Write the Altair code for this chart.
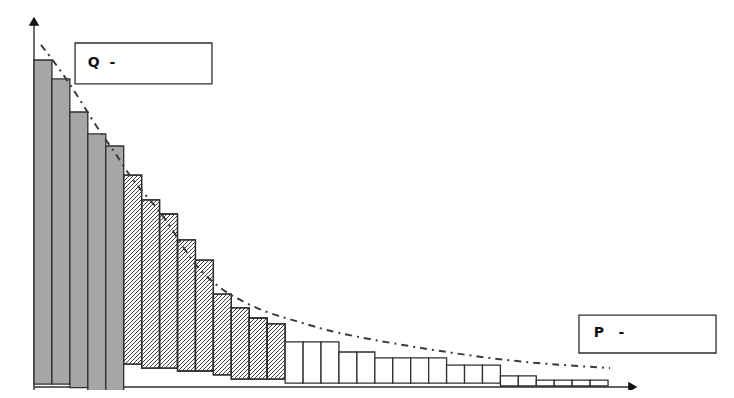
import math
import altair as alt
import pandas as pd

# ---- data (value units, x in bar index units) ----
gray_top = [100, 94.2, 84.1, 77.4, 73.7]
gray_base = [0.9, 0.9, -0.2, -1.4, -1.4]

hatch_top = [64.8, 57.2, 52.9, 45.0, 38.8, 28.4, 24.2, 21.1, 19.3]
hatch_base = [7.0, 5.8, 5.8, 4.9, 4.9, 3.7, 2.4, 2.4, 2.4]

white_top = [13.8, 13.8, 13.8, 10.7, 10.7, 8.9, 8.9, 8.9, 8.9,
             6.7, 6.7, 6.7, 3.4, 3.4, 2.1, 2.1, 2.1, 2.1]
white_base = [1.2, 1.2, 1.2, 1.2, 1.2, 1.2, 1.2, 1.2, 1.2,
              1.2, 1.2, 1.2, 0.3, 0.3, 0.3, 0.3, 0.3, 0.3]

curve_x = [0.39, 1.90, 3.68, 4.52, 5.52, 6.86, 7.75, 8.86, 9.98, 11.09,
           12.99, 14.66, 16.50, 21.13, 26.70, 32.11]
curve_y = [104.6, 93.9, 77.7, 71.9, 62.7, 55.0, 47.9, 37.9, 31.8, 27.5,
           22.6, 20.2, 16.8, 12.2, 7.6, 5.8]

box_text = ["Q\u00a0\u00a0-", "P\u00a0\u00a0\u00a0-"]
box_x = [2.29, 30.38]
box_x2 = [9.92, 38.02]
box_y = [105.2, 22.0]
box_y2 = [92.7, 10.4]
label_x = [3.0, 31.2]
label_y = [99.0, 16.5]

# ---- layout ----
W, H = 604, 370
XMAX = 33.67
YMAX = 113.15
XPX = W / XMAX
YPX = H / YMAX

xs = alt.Scale(domain=[0, XMAX], nice=False, zero=False)
ys = alt.Scale(domain=[0, YMAX], nice=False, zero=False)

INK = "#2e2e2e"


def bars_frame(tops, bases, start):
    return pd.DataFrame({
        "x0": [start + i for i in range(len(tops))],
        "x1": [start + i + 1 for i in range(len(tops))],
        "top": tops,
        "base": bases,
    })


gray_df = bars_frame(gray_top, gray_base, 0)
hatch_df = bars_frame(hatch_top, hatch_base, len(gray_top))
white_df = bars_frame(white_top, white_base, len(gray_top) + len(hatch_top))

# hatch pattern lines ("/" direction) inside the hatched bars
step = 4.0
segs = []
for r in hatch_df.itertuples():
    u0, u1 = r.x0 * XPX, r.x1 * XPX
    wb, wt = r.base * YPX, r.top * YPX
    k = math.ceil((wb - u1) / step)
    while k * step <= wt - u0:
        c = k * step
        ua = max(u0, wb - c)
        ub = min(u1, wt - c)
        if ub > ua:
            segs.append({"xa": ua / XPX, "ya": (ua + c) / YPX,
                         "xb": ub / XPX, "yb": (ub + c) / YPX})
        k += 1
hatch_lines = pd.DataFrame(segs)


def rects(df, fill, opacity=1.0):
    return alt.Chart(df).mark_rect(
        fill=fill, fillOpacity=opacity, stroke=INK, strokeWidth=1.3, clip=False
    ).encode(
        x=alt.X("x0:Q", scale=xs, axis=None),
        x2="x1:Q",
        y=alt.Y("top:Q", scale=ys, axis=None),
        y2="base:Q",
    )


gray = rects(gray_df, "#a6a6a6")
hatch_bg = rects(hatch_df, "white")
hatch = alt.Chart(hatch_lines).mark_rule(color="#333333", strokeWidth=0.95).encode(
    x=alt.X("xa:Q", scale=xs, axis=None),
    y=alt.Y("ya:Q", scale=ys, axis=None),
    x2="xb:Q",
    y2="yb:Q",
)
hatch_edge = rects(hatch_df, "white", 0.0)
white = rects(white_df, "white")

axes_df = pd.DataFrame({
    "xa": [0, 0], "ya": [-1.0, 0], "xb": [0, XMAX - 0.3], "yb": [YMAX - 1.5, 0]
})
axes = alt.Chart(axes_df).mark_rule(color=INK, strokeWidth=1.4).encode(
    x=alt.X("xa:Q", scale=xs, axis=None),
    y=alt.Y("ya:Q", scale=ys, axis=None),
    x2="xb:Q",
    y2="yb:Q",
)
HEAD = 110
r_head = math.sqrt(HEAD) / 2
arrow_up = alt.Chart(pd.DataFrame({"x": [0], "y": [YMAX + 0.3 - r_head / YPX]})).mark_point(
    shape="triangle-up", filled=True, size=HEAD, color="#111", opacity=1
).encode(x=alt.X("x:Q", scale=xs, axis=None), y=alt.Y("y:Q", scale=ys, axis=None))
arrow_right = alt.Chart(pd.DataFrame({"x": [XMAX - r_head / XPX], "y": [0]})).mark_point(
    shape="triangle-right", filled=True, size=HEAD, color="#111", opacity=1
).encode(x=alt.X("x:Q", scale=xs, axis=None), y=alt.Y("y:Q", scale=ys, axis=None))

curve = alt.Chart(pd.DataFrame({"x": curve_x, "y": curve_y})).mark_line(
    color="#3a3a3a", strokeWidth=2.0, strokeDash=[7, 5, 2, 5], interpolate="basis"
).encode(x=alt.X("x:Q", scale=xs, axis=None), y=alt.Y("y:Q", scale=ys, axis=None))

boxes_df = pd.DataFrame({"x0": box_x, "x1": box_x2, "top": box_y, "base": box_y2,
                         "lx": label_x, "ly": label_y, "t": box_text})
boxes = alt.Chart(boxes_df).mark_rect(
    fill="white", stroke=INK, strokeWidth=1.3, clip=False
).encode(
    x=alt.X("x0:Q", scale=xs, axis=None), x2="x1:Q",
    y=alt.Y("top:Q", scale=ys, axis=None), y2="base:Q",
)
labels = alt.Chart(boxes_df).mark_text(
    align="left", baseline="middle", font="DejaVu Sans", fontSize=14,
    fontWeight="bold", color="#111", clip=False
).encode(
    x=alt.X("lx:Q", scale=xs, axis=None),
    y=alt.Y("ly:Q", scale=ys, axis=None),
    text="t:N",
)

chart = alt.layer(
    axes, gray, hatch_bg, hatch, hatch_edge, white, curve,
    arrow_up, arrow_right, boxes, labels
).properties(
    width=W, height=H,
    autosize=alt.AutoSizeParams(type="none"),
    padding={"left": 26, "top": 9, "right": 88, "bottom": 3},
    background="white",
).configure_view(stroke=None)

chart.save("out.html", embed_options={"renderer": "svg", "actions": False})
